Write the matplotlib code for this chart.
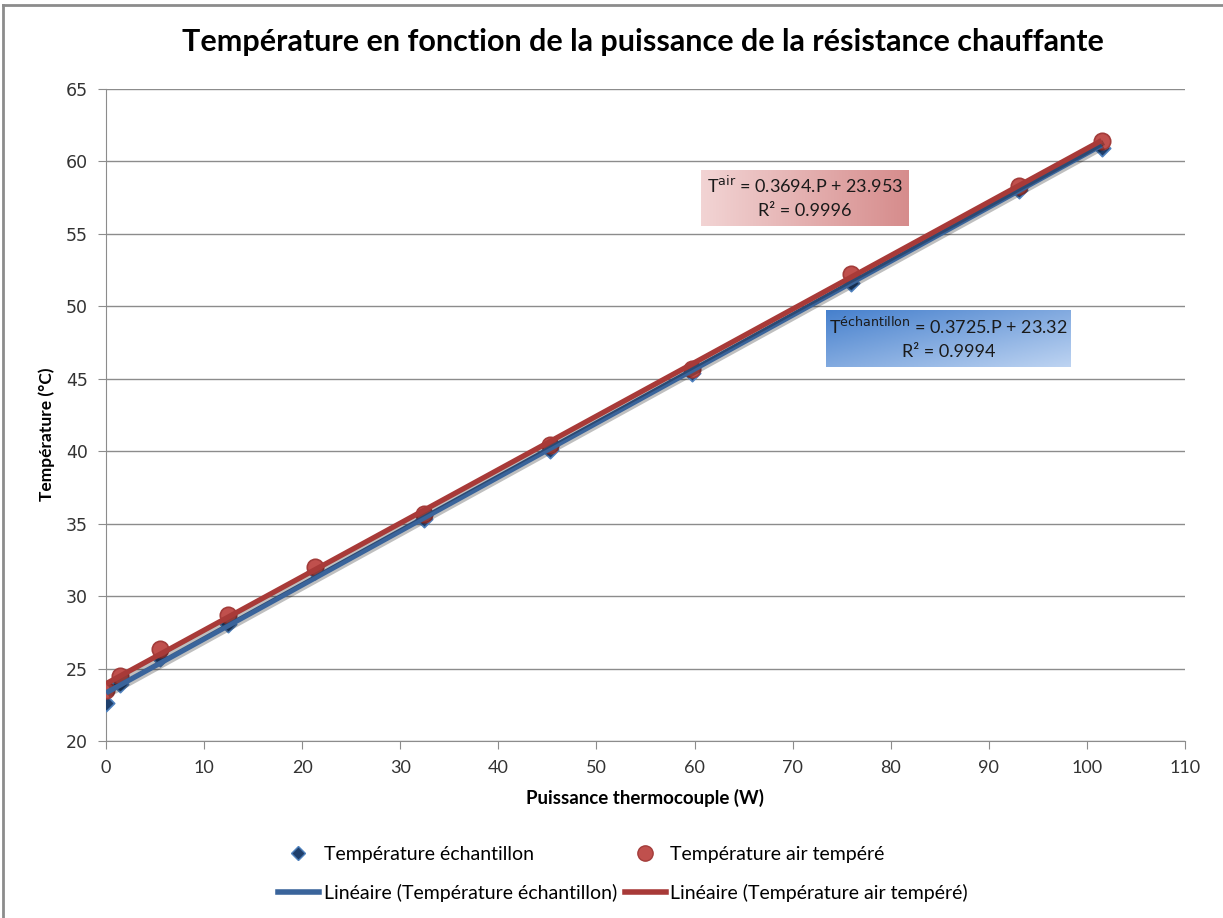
import matplotlib.pyplot as plt
import matplotlib.patheffects as pe
from matplotlib.lines import Line2D
import numpy as np

plt.rcParams['font.family'] = ['Lato', 'DejaVu Sans']

# puissance (W) et températures mesurées (°C)
puissance = [0.0, 1.4, 5.5, 12.4, 21.3, 32.4, 45.3, 59.7, 76.0, 93.1, 101.5]
t_echantillon = [22.6, 23.9, 25.7, 28.1, 31.7, 35.3, 40.1, 45.4, 51.6, 58.0, 60.9]
t_air = [23.5, 24.5, 26.35, 28.7, 32.0, 35.7, 40.4, 45.7, 52.2, 58.3, 61.4]

# régressions linéaires
a_ech, b_ech, r2_ech = 0.3725, 23.32, 0.9994
a_air, b_air, r2_air = 0.3694, 23.953, 0.9996

xticks = list(range(0, 111, 10))
yticks = list(range(20, 66, 5))

blue = '#3A649B'
red = '#A83A38'

fig = plt.figure(figsize=(12.23, 9.18), dpi=100)
ax = fig.add_axes([106 / 1223, 1 - 741 / 918, (1185 - 106) / 1223, (741 - 89) / 918])

shadow = [pe.SimpleLineShadow(offset=(1.5, -1.5), shadow_color='k', alpha=0.25), pe.Normal()]

ax.scatter(puissance, t_echantillon, marker='D', s=70, color='#1F3F6B', edgecolor='#4F81BD',
           linewidth=1.2, zorder=3)
ax.scatter(puissance, t_air, marker='o', s=140, color='#C0504D', edgecolor='#A33C3A',
           linewidth=1.2, zorder=3)

xs = np.array([0, max(puissance)])
ax.plot(xs, a_ech * xs + b_ech, color=blue, lw=3.8, zorder=4, path_effects=shadow,
        solid_capstyle='butt')
ax.plot(xs, a_air * xs + b_air, color=red, lw=3.8, zorder=5, path_effects=shadow,
        solid_capstyle='butt')

ax.set_xlim(0, 110)
ax.set_ylim(20, 65)
ax.set_xticks(xticks)
ax.set_yticks(yticks)
ax.yaxis.grid(True, color='#8C8C8C', lw=1)
ax.set_axisbelow(True)
for s in ['top', 'right']:
    ax.spines[s].set_visible(False)
for s in ['left', 'bottom']:
    ax.spines[s].set_color('#8C8C8C')
ax.tick_params(axis='both', color='#8C8C8C', length=6, direction='out')
ax.tick_params(axis='y', labelsize=12.5, pad=7)
ax.tick_params(axis='x', labelsize=13, pad=8)
for lab in ax.get_yticklabels():
    lab.set_family('DejaVu Sans')
    lab.set_color('#333333')
for lab in ax.get_xticklabels():
    lab.set_color('#333333')

ax.set_xlabel('Puissance thermocouple (W)', fontsize=13.5, fontweight='bold', labelpad=9)
ax.set_ylabel('Température (°C)', fontsize=12.5, fontweight='bold')
ax.yaxis.set_label_coords(-0.047, 0.47)

fig.text(0.526, 1 - 42 / 918, 'Température en fonction de la puissance de la résistance chauffante',
         ha='center', va='center', fontsize=22, fontweight='bold')

# cadre du graphique
fig.add_artist(Line2D([3 / 1223, 3 / 1223], [0, 1 - 5 / 918], color='#8C8C8C', lw=2))
fig.add_artist(Line2D([3 / 1223, 1], [1 - 5 / 918, 1 - 5 / 918], color='#8C8C8C', lw=2))


def boite(x0, y0, x1, y1, c_debut, c_fin, diag, lignes):
    bx = fig.add_axes([x0 / 1223, 1 - y1 / 918, (x1 - x0) / 1223, (y1 - y0) / 918])
    u = np.linspace(0, 1, 200)
    gx, gy = np.meshgrid(u, u)
    t = (gx + gy) / 2 if diag else gx
    c0 = np.array(c_debut) / 255
    c1 = np.array(c_fin) / 255
    img = c0 + (c1 - c0) * t[..., None]
    bx.imshow(img, extent=[0, 1, 0, 1], aspect='auto', origin='upper')
    bx.set_xlim(0, 1)
    bx.set_ylim(0, 1)
    bx.axis('off')
    bx.text(0.5, 0.72, lignes[0], ha='center', va='center', fontsize=13, color='#1a1a1a')
    bx.text(0.5, 0.27, lignes[1], ha='center', va='center', fontsize=13, color='#1a1a1a')


boite(701, 170, 909, 226, (242, 212, 212), (214, 140, 140), False,
      [f'T$^{{\\rm air}}$ = {a_air}.P + {b_air}', f'R² = {r2_air}'])
boite(826, 310, 1071, 367, (70, 128, 205), (190, 212, 242), True,
      [f'T$^{{\\rm échantillon}}$ = {a_ech}.P + {b_ech}', f'R² = {r2_ech}'])

# légende (2 colonnes : points puis courbes de tendance)
handles = [Line2D([], [], ls='', marker='D', ms=7, mfc='#1F3F6B', mec='#4F81BD'),
           Line2D([], [], color=blue, lw=4),
           Line2D([], [], ls='', marker='o', ms=11, mfc='#C0504D', mec='#A33C3A'),
           Line2D([], [], color=red, lw=4)]
labels = ['Température échantillon', 'Linéaire (Température échantillon)',
          'Température air tempéré', 'Linéaire (Température air tempéré)']
fig.legend(handles, labels, ncol=2, loc='center', bbox_to_anchor=(623 / 1223, 1 - 874 / 918),
           frameon=False, fontsize=14, columnspacing=0.4, handlelength=2.1,
           handletextpad=0.25, labelspacing=1.05)

fig.savefig('out.png', dpi=100)
